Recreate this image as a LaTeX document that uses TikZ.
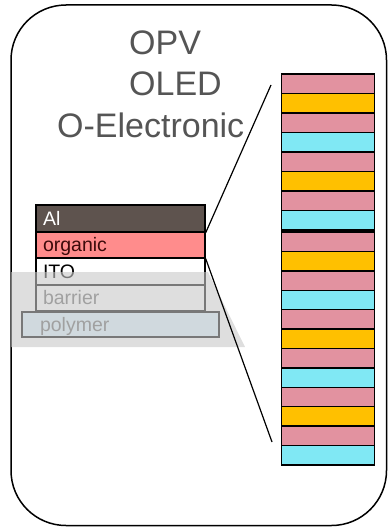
\documentclass[tikz,border=0pt]{standalone}
\usepackage{fontspec}
\setmainfont{Liberation Sans}
\usetikzlibrary{positioning}

\definecolor{alcol}{HTML}{5E534E}
\definecolor{orgcol}{HTML}{FF8C8C}
\definecolor{polycol}{HTML}{DCF4FF}
\definecolor{bandpink}{HTML}{E292A0}
\definecolor{bandyellow}{HTML}{FFC000}
\definecolor{bandcyan}{HTML}{80E8F4}
\definecolor{txtgray}{HTML}{555555}
\definecolor{veilgray}{RGB}{200,200,200}

\tikzset{
  layer/.style={draw=black, line width=1.4pt, inner xsep=7pt, inner ysep=0pt,
    text width=155pt, minimum height=26pt, align=left,
    font=\fontsize{19.5}{22}\selectfont, text height=13.5pt, text depth=0pt},
  bigtxt/.style={text=txtgray, inner sep=0pt, font=\fontsize{34}{40}\selectfont},
  band/.style={draw=black, line width=1.4pt},
  zoomline/.style={black, line width=1.2pt}
}

\begin{document}
\begin{tikzpicture}[x=1pt, y=-1pt]
	\useasboundingbox (0,0) rectangle (388,527);
	\draw [line width=1.5pt, rounded corners=55pt] (11,5) rectangle (386.5,525.5);
	
	\node[bigtxt, anchor=base west] (opv) at (129,55) {OPV};
	\node[bigtxt, anchor=base west] (oled) at (129,95) {OLED};
	\node[bigtxt, anchor=base west] (oelec) at (57,137) {O-Electronic};
	
	% device layers
	\node[layer, fill=alcol, text=white, minimum height=27pt] (al) at (120.5,218.5) {Al};
	\node[layer, fill=orgcol, text={rgb,255:red,60;green,10;blue,10}] (organic) at (120.5,245) {organic};
	\node[layer, fill=white, minimum height=27pt] (ito) at (120.5,271.5) {ITO};
	\node[layer, fill=white, text=black!60] (barrier) at (120.5,298) {barrier};
	\node[layer, fill=polycol, text=black!60, inner xsep=18pt, text width=161pt, minimum height=25pt] (polymer) at (120.5,324.5) {polymer};
	
	% grey veil
	\fill [veilgray, opacity=0.6] (11,272) -- (208,272) -- (245,347) -- (11,347) -- cycle;
	
	% multilayer stack
	\foreach \c [count=\i from 0] in {bandpink,bandyellow,bandpink,bandcyan,bandpink,bandyellow,bandpink,bandcyan,
		bandpink,bandyellow,bandpink,bandcyan,bandpink,bandyellow,bandpink,bandcyan,bandpink,bandyellow,bandpink,bandcyan}{
		\pgfmathsetmacro{\ytop}{\i<8 ? 74+19.5*\i : 232+19.4*(\i-8)}
		\filldraw[band, fill=\c] (281.5,\ytop) rectangle (374.5,\ytop+19.45);
	}
	
	\coordinate (ztop) at (271,85);
	\coordinate (zbot) at (272,442);
	\draw [zoomline] (al.south east) -- (ztop);
	\draw [zoomline] (organic.south east) -- (zbot);
\end{tikzpicture}
\end{document}
